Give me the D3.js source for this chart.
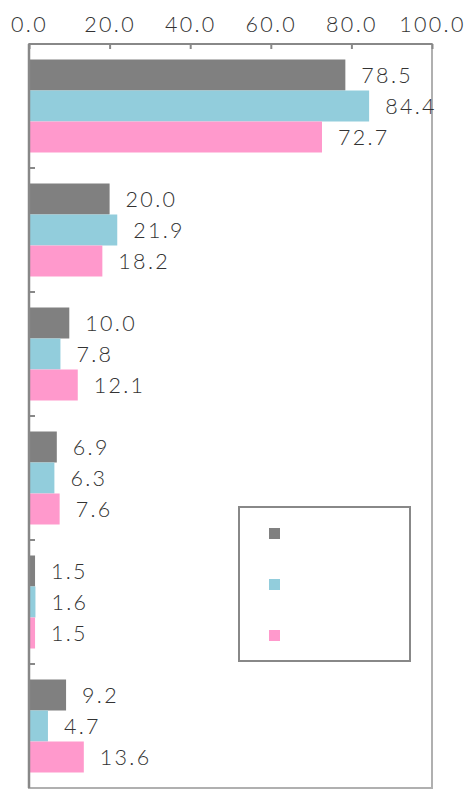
<!DOCTYPE html>
<html><head><meta charset="utf-8">
<script src="https://cdn.jsdelivr.net/npm/d3@7"></script>
<style>body{margin:0;background:#fff}</style>
</head><body>
<svg id="c" width="473" height="789"></svg>
<script>
const categories = ["c1","c2","c3","c4","c5","c6"];
const seriesNames = ["", "", ""];
const seriesA = [78.5, 20.0, 10.0, 6.9, 1.5, 9.2];
const seriesB = [84.4, 21.9, 7.8, 6.3, 1.6, 4.7];
const seriesC = [72.7, 18.2, 12.1, 7.6, 1.5, 13.6];
const tickValues = [0, 20, 40, 60, 80, 100];
const colors = ["#808080", "#92CDDC", "#FF99CC"];

const series = [seriesA, seriesB, seriesC];
const svg = d3.select("#c");
const L = 29, R = 432, T = 44, B = 788;
const x = d3.scaleLinear().domain([0, 100]).range([L, R]);
const y = d3.scaleBand().domain(categories).range([T, B]).paddingInner(0.25).paddingOuter(0.125);
const ys = d3.scaleBand().domain([0,1,2]).range([0, y.bandwidth()]);
const font = "Lato, sans-serif";
const ls = 2.3;

// plot border
svg.append("rect").attr("x", L).attr("y", T).attr("width", R - L).attr("height", B - T)
  .attr("fill", "none").attr("stroke", "#b0b0b0").attr("stroke-width", 2);

// bars
categories.forEach((c, i) => {
  series.forEach((s, k) => {
    const yy = y(c) + ys(k);
    svg.append("rect").attr("x", x(0)).attr("y", yy).attr("width", x(s[i]) - x(0)).attr("height", ys.bandwidth())
      .attr("fill", colors[k]);
    svg.append("text").attr("x", x(s[i]) + 16).attr("y", yy + ys.bandwidth() / 2 + 7.5)
      .attr("font-family", font).attr("font-weight", 300).attr("font-size", 21.5).attr("fill", "#333")
      .attr("letter-spacing", ls)
      .text(s[i].toFixed(1));
  });
});

// top axis
const xa = svg.append("g").attr("transform", `translate(0,${T})`)
  .call(d3.axisTop(x).tickValues(tickValues).tickSize(-5).tickPadding(12).tickFormat(d => d.toFixed(1)));
xa.selectAll(".tick line").attr("stroke", "#888").attr("stroke-width", 2);
xa.selectAll(".tick text").attr("font-family", font).attr("font-weight", 300).attr("font-size", 21.5).attr("fill", "#333").attr("letter-spacing", ls);
xa.select(".domain").remove();
svg.append("line").attr("x1", L).attr("x2", R).attr("y1", T).attr("y2", T).attr("stroke", "#888").attr("stroke-width", 2);

// left axis with ticks between categories
const la = svg.append("g");
la.append("line").attr("x1", L).attr("x2", L).attr("y1", T).attr("y2", B).attr("stroke", "#888").attr("stroke-width", 2.5);
const step = y.step();
d3.range(1, categories.length).forEach(i => {
  const yy = y(categories[i]) - (step - y.bandwidth()) / 2;
  la.append("line").attr("x1", L).attr("x2", L + 6).attr("y1", yy).attr("y2", yy).attr("stroke", "#888").attr("stroke-width", 2);
});

// legend
const lg = svg.append("g");
lg.append("rect").attr("x", 239).attr("y", 507).attr("width", 171).attr("height", 154)
  .attr("fill", "#fff").attr("stroke", "#888").attr("stroke-width", 2);
seriesNames.forEach((n, k) => {
  lg.append("rect").attr("x", 269).attr("y", 528 + k * 51).attr("width", 11).attr("height", 11).attr("fill", colors[k]);
  lg.append("text").attr("x", 290).attr("y", 538 + k * 51).attr("font-family", font).attr("font-size", 18).text(n);
});
</script>
</body></html>
